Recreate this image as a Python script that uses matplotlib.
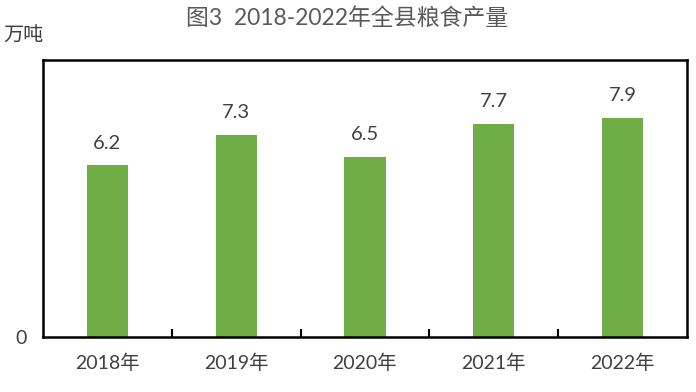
import numpy as np
import matplotlib.pyplot as plt
from matplotlib.ticker import FixedLocator

plt.rcParams['font.family'] = ['Lato', 'Noto Sans CJK SC', 'DejaVu Sans']

# ---data--- #
years = ['2018年', '2019年', '2020年', '2021年', '2022年']
output = [6.2, 7.3, 6.5, 7.7, 7.9]

bar_color = '#70AD47'
text_color = '#404040'

fig = plt.figure(figsize=(6.96, 3.92), dpi=100)
ax = fig.add_axes([43 / 696, 1 - 337 / 392, (687 - 43) / 696, (337 - 60) / 392])

x = np.arange(len(years))
bars = ax.bar(x, output, width=0.32, color=bar_color, zorder=2)

for xi, v in zip(x, output):
    ax.annotate(f'{v}', (xi, v), xytext=(0, 16), textcoords='offset points',
                ha='center', va='center', fontsize=14.5, color=text_color)

ax.set_xlim(-0.5, len(years) - 0.5)
ax.set_ylim(0, 10)

ax.set_xticks(x)
ax.set_xticklabels(years, fontsize=14, color=text_color)
ax.tick_params(axis='x', which='major', length=0, pad=12)
ax.xaxis.set_minor_locator(FixedLocator(np.arange(0.5, len(years) - 0.5, 1)))
ax.tick_params(axis='x', which='minor', direction='in', length=6, width=1.5, color='black')

ax.set_yticks([0])
ax.set_yticklabels(['0'], fontsize=14, color=text_color)
ax.tick_params(axis='y', length=0, pad=12)

for s in ax.spines.values():
    s.set_linewidth(1.8)
    s.set_color('black')

fig.text(347 / 696, 1 - 18 / 392, '图3  2018-2022年全县粮食产量', ha='center', va='center',
         fontsize=16.5, color='#595959')
fig.text(3 / 696, 1 - 36 / 392, '万吨', ha='left', va='center', fontsize=14.5, color=text_color)

plt.savefig('out.png', dpi=100)
